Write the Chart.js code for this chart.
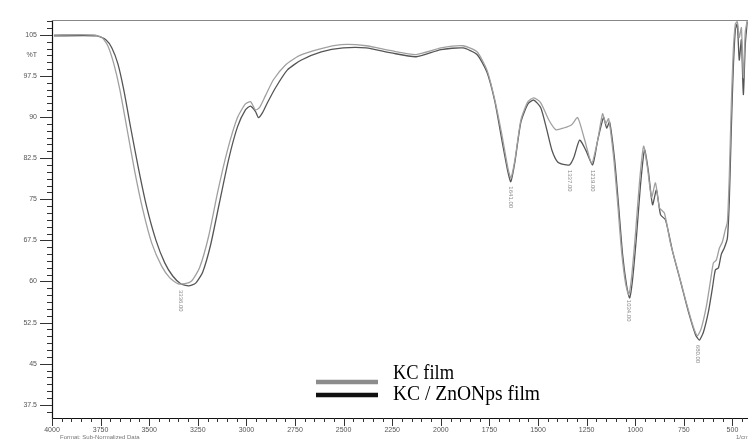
<!DOCTYPE html>
<html>
<head>
<meta charset="utf-8">
<script src="https://cdn.jsdelivr.net/npm/chart.js@4.4.1/dist/chart.umd.min.js"></script>
<style>
html,body{margin:0;padding:0;background:#fff;}
#wrap{width:748px;height:441px;}
</style>
</head>
<body>
<div id="wrap"><canvas id="c" width="748" height="441"></canvas></div>
<script>
// ---- data (wavenumber in 1/cm, transmittance in %T) ----
const seriesNames = ["KC film", "KC / ZnONps film"];

const kcWn = [3990,3785,3743,3713,3682,3651,3615,3574,3533,3487,3436,3395,3353,3318,3282,3241,3194,3148,3097,3046,3005,2979,2953,2933,2902,2861,2799,2728,2625,2512,2384,2255,2127,1999,1886,1814,1763,1722,1686,1655,1640,1619,1588,1552,1522,1486,1445,1409,1368,1327,1296,1260,1224,1193,1168,1152,1137,1111,1091,1070,1050,1034,1019,998,978,957,937,916,896,875,850,819,778,737,701,680,660,634,614,598,583,567,552,537,526,516,506,496,485,475,465,454,444,434,424];
const kcT  = [105.0,105.0,104.5,103.0,99.7,95.0,88.0,80.0,73.1,67.0,62.8,60.7,59.6,59.6,60.1,62.5,68.3,76.3,84.0,89.9,92.4,92.8,91.3,91.7,93.9,96.8,99.5,101.2,102.4,103.2,103.0,102.1,101.4,102.6,103.0,101.9,98.6,93.1,86.8,80.7,78.9,82.2,89.5,92.8,93.5,92.6,89.5,87.7,88.0,88.6,89.9,85.8,81.6,85.8,90.6,88.8,89.7,82.6,74.5,65.4,59.7,57.6,60.7,69.1,78.2,84.7,80.7,75.3,78.0,73.4,72.5,67.0,61.6,56.1,51.7,50.1,51.5,55.5,59.9,63.4,63.9,66.1,67.2,69.4,70.9,79.5,92.2,101.9,107.0,107.4,104.5,106.3,97.2,105.5,107.6];

const znWn = [3990,3769,3723,3692,3661,3631,3595,3554,3513,3466,3420,3379,3338,3297,3261,3225,3184,3138,3092,3046,3005,2979,2953,2938,2917,2892,2851,2789,2717,2615,2502,2384,2255,2127,1999,1886,1814,1763,1722,1686,1655,1640,1619,1588,1552,1522,1486,1455,1429,1399,1363,1337,1316,1286,1255,1219,1193,1163,1147,1132,1106,1086,1065,1045,1029,1014,993,973,952,932,911,891,870,844,808,767,726,690,670,649,624,603,588,572,557,542,526,516,506,496,485,475,465,454,444,434,424];
const znT  = [104.8,104.8,104.1,102.6,99.7,95.0,88.0,80.4,73.6,67.6,63.4,61.0,59.6,59.2,59.7,61.7,66.7,74.5,82.2,88.2,91.3,92.0,91.0,89.9,90.8,92.6,95.3,98.6,100.4,101.9,102.6,102.6,101.7,101.0,102.3,102.6,101.4,98.2,92.8,85.8,80.0,78.2,81.8,89.1,92.4,93.1,91.7,87.7,84.0,81.8,81.3,81.3,82.6,85.8,84.0,81.3,85.8,89.9,88.0,89.1,82.2,74.0,64.9,59.4,57.0,60.3,68.5,77.6,84.0,80.0,74.0,76.7,72.2,71.2,65.5,60.0,54.4,50.3,49.3,50.8,54.4,58.8,62.1,62.5,65.0,66.1,67.9,74.9,87.7,98.6,105.9,107.0,100.4,104.1,94.1,103.2,107.4];

const xTicks = [4000,3750,3500,3250,3000,2750,2500,2250,2000,1750,1500,1250,1000,750,500];
const yTicks = [105,97.5,90,82.5,75,67.5,60,52.5,45,37.5];
const peakWn = [3336,1641,1337,1219,1034,680];
const peakT  = [59.0,77.9,80.9,80.9,57.2,49.0];

const toPts = (xs, ys) => xs.map((v, i) => ({x: v, y: ys[i]}));

const decor = {
  id: 'decor',
  afterDraw(chart) {
    const ctx = chart.ctx, a = chart.chartArea;
    const xs = chart.scales.x, ys = chart.scales.y;
    ctx.save();
    // frame
    ctx.strokeStyle = '#111'; ctx.lineWidth = 1.2;
    ctx.beginPath();
    ctx.moveTo(a.left + 0.5, a.top); ctx.lineTo(a.left + 0.5, a.bottom + 0.5);
    ctx.lineTo(a.right, a.bottom + 0.5);
    ctx.stroke();
    ctx.strokeStyle = '#888'; ctx.lineWidth = 1;
    ctx.beginPath(); ctx.moveTo(a.left, a.top + 0.5); ctx.lineTo(a.right, a.top + 0.5); ctx.stroke();
    // y ticks
    ctx.strokeStyle = '#333'; ctx.lineWidth = 1;
    for (let v = 37.5 - 1.25; v <= 107.7; v += 1.25) {
      if (v < ys.min) continue;
      const py = Math.round(ys.getPixelForValue(v)) + 0.5;
      const major = Math.abs((v / 7.5) - Math.round(v / 7.5)) < 1e-6;
      ctx.beginPath(); ctx.moveTo(a.left, py); ctx.lineTo(a.left - (major ? 12 : 5), py); ctx.stroke();
    }
    // x ticks
    for (let v = 4000; v >= xs.min; v -= 50) {
      const px = Math.round(xs.getPixelForValue(v)) + 0.5;
      const major = v % 250 === 0;
      ctx.beginPath(); ctx.moveTo(px, a.bottom); ctx.lineTo(px, a.bottom + (major ? 8 : 4)); ctx.stroke();
    }
    // y axis title
    ctx.fillStyle = '#555'; ctx.font = '7px "Liberation Sans"';
    ctx.textAlign = 'right'; ctx.textBaseline = 'middle';
    ctx.fillText('%T', 37, ys.getPixelForValue(101.25));
    // footer texts
    ctx.textAlign = 'left'; ctx.fillStyle = '#777'; ctx.font = '6px "Liberation Sans"';
    ctx.fillText('Format: Sub-Normalized Data', 60, 437);
    ctx.fillText('1/cm', 736, 437);
    // peak labels
    ctx.fillStyle = '#888'; ctx.font = '6px "Liberation Sans"';
    peakWn.forEach((w, i) => {
      const px = xs.getPixelForValue(w), py = ys.getPixelForValue(peakT[i]) + 3;
      ctx.save(); ctx.translate(px, py); ctx.rotate(Math.PI / 2);
      ctx.textAlign = 'left'; ctx.textBaseline = 'middle';
      ctx.fillText(w.toFixed(2), 0, 0); ctx.restore();
    });
    // legend
    ctx.fillStyle = '#fff';
    ctx.fillRect(314, 364, 246, 42);
    const ds = chart.data.datasets;
    const rows = [{y: 382, tx: 379, w: 61}, {y: 395, tx: 400, w: 147}];
    ds.forEach((d, i) => {
      ctx.strokeStyle = d.legendColor; ctx.lineWidth = 4.5;
      ctx.beginPath(); ctx.moveTo(316, rows[i].y); ctx.lineTo(378, rows[i].y); ctx.stroke();
      ctx.fillStyle = '#000'; ctx.font = '20px "Liberation Serif"';
      ctx.textAlign = 'left'; ctx.textBaseline = 'alphabetic';
      ctx.fillText(d.label, 393, rows[i].tx, rows[i].w);
    });
    ctx.restore();
  }
};

new Chart(document.getElementById('c'), {
  type: 'line',
  data: {
    datasets: [
      {label: seriesNames[0], data: toPts(kcWn, kcT), borderColor: '#a0a0a0', legendColor: '#8c8c8c', borderWidth: 1.3, pointRadius: 0, tension: 0.2, fill: false},
      {label: seriesNames[1], data: toPts(znWn, znT), borderColor: '#555555', legendColor: '#111', borderWidth: 1.3, pointRadius: 0, tension: 0.2, fill: false}
    ]
  },
  options: {
    responsive: false, animation: false,
    layout: {padding: {top: 20, left: 0, right: 0, bottom: 0}},
    plugins: {legend: {display: false}, tooltip: {enabled: false}},
    scales: {
      x: {
        type: 'linear', reverse: true, min: 420, max: 4000,
        grid: {display: false, drawTicks: false}, border: {display: false},
        afterBuildTicks: s => { s.ticks = xTicks.map(v => ({value: v})); },
        afterFit: s => { s.height = 23; },
        ticks: {autoSkip: false, maxRotation: 0, padding: 8, color: '#555', font: {size: 7, family: 'Liberation Sans'}, callback: v => String(v)}
      },
      y: {
        type: 'linear', min: 35.1, max: 107.7,
        grid: {display: false, drawTicks: false}, border: {display: false},
        afterBuildTicks: s => { s.ticks = yTicks.map(v => ({value: v})); },
        afterFit: s => { s.width = 52; },
        ticks: {autoSkip: false, padding: 15, color: '#555', font: {size: 7, family: 'Liberation Sans'}, callback: v => (v % 1 ? v.toFixed(1) : String(v))}
      }
    }
  },
  plugins: [decor]
});
</script>
</body>
</html>
